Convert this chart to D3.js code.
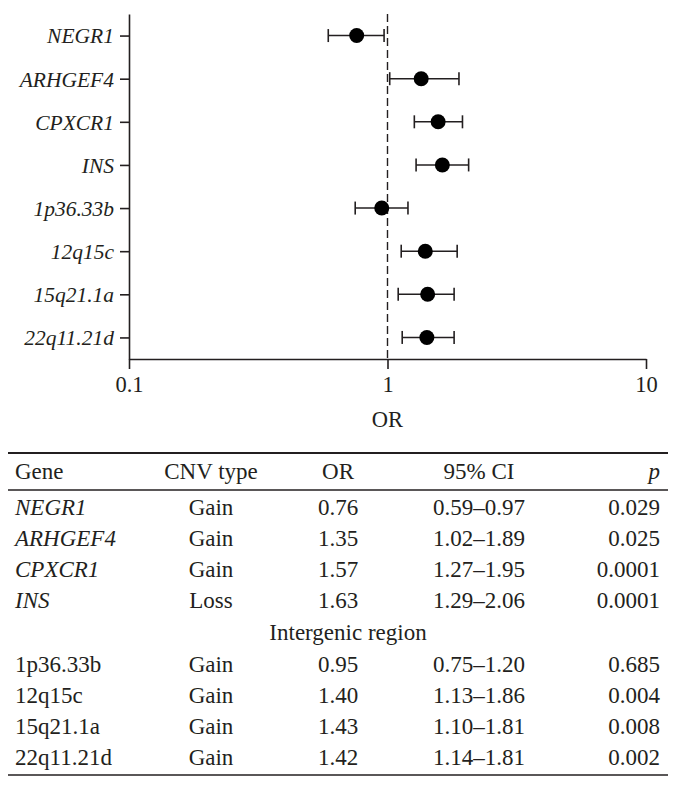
<!DOCTYPE html>
<html>
<head>
<meta charset="utf-8">
<script src="https://cdn.jsdelivr.net/npm/d3@7"></script>
<style>
  html, body { margin: 0; padding: 0; background: #fff; }
  svg { display: block; }
  text { font-family: "Liberation Serif", "DejaVu Serif", serif; fill: #231f20; }
</style>
</head>
<body>
<svg id="chart" width="675" height="803"></svg>
<script>
// ---- data ----
const genes = ["NEGR1", "ARHGEF4", "CPXCR1", "INS", "1p36.33b", "12q15c", "15q21.1a", "22q11.21d"];
const cnvTypes = ["Gain", "Gain", "Gain", "Loss", "Gain", "Gain", "Gain", "Gain"];
const orValues = [0.76, 1.35, 1.57, 1.63, 0.95, 1.40, 1.43, 1.42];
const ciLower = [0.59, 1.02, 1.27, 1.29, 0.75, 1.13, 1.10, 1.14];
const ciUpper = [0.97, 1.89, 1.95, 2.06, 1.20, 1.86, 1.81, 1.81];
const pValues = ["0.029", "0.025", "0.0001", "0.0001", "0.685", "0.004", "0.008", "0.002"];
const isGene = [true, true, true, true, false, false, false, false];
const xTicks = [0.1, 1, 10];
const tableHeaders = ["Gene", "CNV type", "OR", "95% CI", "p"];
const sectionLabel = "Intergenic region";

const svg = d3.select("#chart");
const ink = "#231f20";

// ---- forest plot ----
const x = d3.scaleLog().domain([0.1, 10]).range([129, 646]);
const y = d3.scalePoint().domain(genes).range([14, 359]).padding(0.5);

const yAxis = d3.axisLeft(y).tickSizeInner(9).tickSizeOuter(0).tickPadding(6);
const gy = svg.append("g").attr("transform", `translate(${x(0.1)},0)`).call(yAxis);
gy.select(".domain").attr("stroke", ink).attr("stroke-width", 1.6);
gy.selectAll(".tick line").attr("stroke", ink).attr("stroke-width", 1.6);
gy.selectAll(".tick text").style("font-size", "21.5px").style("font-style", "italic").attr("fill", ink).attr("dy", "0.34em");

const xAxis = d3.axisBottom(x).tickValues(xTicks).tickFormat(d3.format("")).tickSizeInner(10).tickSizeOuter(0).tickPadding(7);
const gx = svg.append("g").attr("transform", `translate(0,${y.range()[1]})`).call(xAxis);
gx.select(".domain").attr("stroke", ink).attr("stroke-width", 1.6);
gx.selectAll(".tick line").attr("stroke", ink).attr("stroke-width", 1.6);
gx.selectAll(".tick text").style("font-size", "22.5px").attr("fill", ink);

svg.append("text").attr("x", x(1)).attr("y", 427).attr("text-anchor", "middle")
  .style("font-size", "22.5px").text("OR");

// reference line
svg.append("line").attr("x1", x(1)).attr("x2", x(1)).attr("y1", y.range()[0]).attr("y2", y.range()[1])
  .attr("stroke", ink).attr("stroke-width", 1.4).attr("stroke-dasharray", "8,4");

const rows = genes.map((g, i) => ({ g, or: orValues[i], lo: ciLower[i], hi: ciUpper[i] }));
const cap = 6.5;
const mk = svg.append("g").selectAll("g").data(rows).join("g");
mk.append("line").attr("x1", d => x(d.lo)).attr("x2", d => x(d.hi)).attr("y1", d => y(d.g)).attr("y2", d => y(d.g))
  .attr("stroke", ink).attr("stroke-width", 1.6);
mk.append("line").attr("x1", d => x(d.lo)).attr("x2", d => x(d.lo)).attr("y1", d => y(d.g) - cap).attr("y2", d => y(d.g) + cap)
  .attr("stroke", ink).attr("stroke-width", 1.6);
mk.append("line").attr("x1", d => x(d.hi)).attr("x2", d => x(d.hi)).attr("y1", d => y(d.g) - cap).attr("y2", d => y(d.g) + cap)
  .attr("stroke", ink).attr("stroke-width", 1.6);
mk.append("circle").attr("cx", d => x(d.or)).attr("cy", d => y(d.g)).attr("r", 7.5).attr("fill", "#000");

// ---- table ----
const tLeft = 8, tRight = 668;
const fs = "23px";
const colX = { gene: 15, cnv: 211, or: 338, ci: 479, p: 660 };
svg.append("line").attr("x1", tLeft).attr("x2", tRight).attr("y1", 453).attr("y2", 453).attr("stroke", ink).attr("stroke-width", 1.8);
svg.append("line").attr("x1", tLeft).attr("x2", tRight).attr("y1", 490).attr("y2", 490).attr("stroke", ink).attr("stroke-width", 1.3);
svg.append("line").attr("x1", tLeft).attr("x2", tRight).attr("y1", 775).attr("y2", 775).attr("stroke", ink).attr("stroke-width", 1.3);

const hdrY = 479;
const hdr = svg.append("g").style("font-size", fs);
hdr.append("text").attr("x", colX.gene).attr("y", hdrY).text(tableHeaders[0]);
hdr.append("text").attr("x", colX.cnv).attr("y", hdrY).attr("text-anchor", "middle").text(tableHeaders[1]);
hdr.append("text").attr("x", colX.or).attr("y", hdrY).attr("text-anchor", "middle").text(tableHeaders[2]);
hdr.append("text").attr("x", colX.ci).attr("y", hdrY).attr("text-anchor", "middle").text(tableHeaders[3]);
hdr.append("text").attr("x", colX.p).attr("y", hdrY).attr("text-anchor", "end").style("font-style", "italic").text(tableHeaders[4]);

const rowY = [515, 546, 577, 608, 640, 672, 703, 734, 765];
const tb = svg.append("g").style("font-size", fs);
const dataRowY = rowY.filter((_, k) => k !== 4);
genes.forEach((g, i) => {
  const ry = dataRowY[i];
  tb.append("text").attr("x", colX.gene).attr("y", ry).style("font-style", isGene[i] ? "italic" : "normal").text(g);
  tb.append("text").attr("x", colX.cnv).attr("y", ry).attr("text-anchor", "middle").text(cnvTypes[i]);
  tb.append("text").attr("x", colX.or).attr("y", ry).attr("text-anchor", "middle").text(orValues[i].toFixed(2));
  tb.append("text").attr("x", colX.ci).attr("y", ry).attr("text-anchor", "middle").text(ciLower[i].toFixed(2) + "\u2013" + ciUpper[i].toFixed(2));
  tb.append("text").attr("x", colX.p).attr("y", ry).attr("text-anchor", "end").text(pValues[i]);
});
tb.append("text").attr("x", 348).attr("y", rowY[4]).attr("text-anchor", "middle").text(sectionLabel);
</script>
</body>
</html>
